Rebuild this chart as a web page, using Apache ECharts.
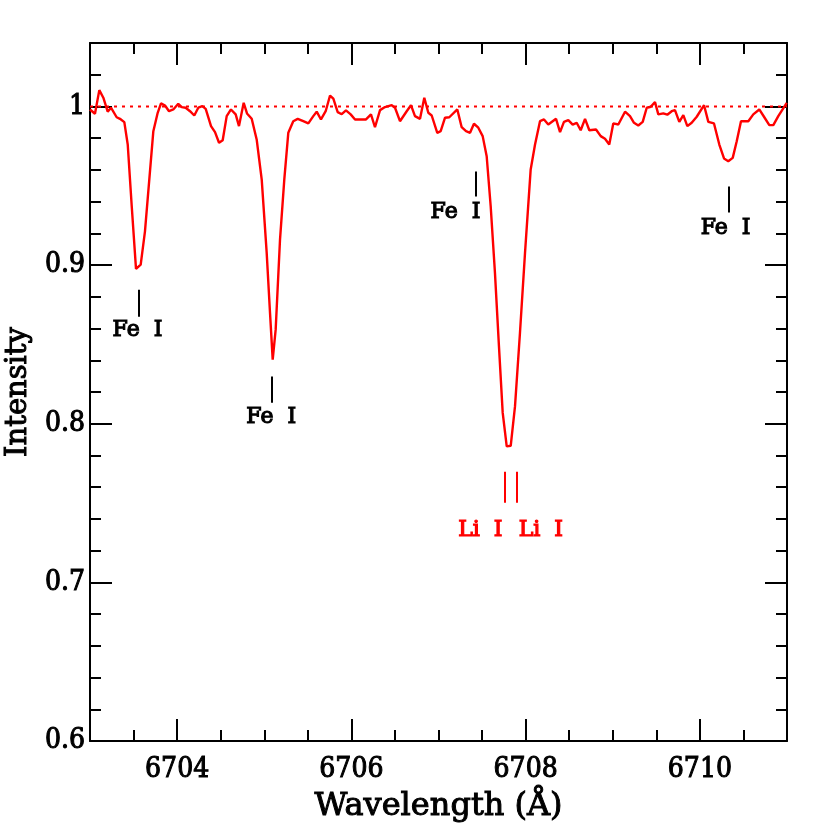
<!DOCTYPE html>
<html>
<head>
<meta charset="utf-8">
<script src="https://cdn.jsdelivr.net/npm/echarts@6/dist/echarts.min.js"></script>
<style>html,body{margin:0;padding:0;background:#fff}#c{width:830px;height:830px}</style>
</head>
<body>
<div id="c"></div>
<script>
// Spectrum (wavelength in Å, normalized intensity)
var wavelength = [6703.000,6703.057,6703.107,6703.153,6703.203,6703.241,6703.306,6703.344,6703.394,6703.433,6703.479,6703.528,6703.582,6703.631,6703.727,6703.777,6703.815,6703.861,6703.907,6703.956,6704.013,6704.053,6704.098,6704.148,6704.197,6704.243,6704.289,6704.328,6704.389,6704.435,6704.481,6704.523,6704.569,6704.618,6704.672,6704.710,6704.764,6704.802,6704.856,6704.913,6704.971,6705.028,6705.066,6705.097,6705.131,6705.181,6705.230,6705.276,6705.333,6705.384,6705.448,6705.506,6705.563,6705.602,6705.651,6705.705,6705.755,6705.793,6705.843,6705.889,6705.938,6705.992,6706.042,6706.099,6706.168,6706.225,6706.271,6706.329,6706.386,6706.463,6706.501,6706.558,6706.635,6706.684,6706.730,6706.788,6706.837,6706.883,6706.922,6706.986,6707.025,6707.075,6707.124,6707.216,6707.266,6707.316,6707.362,6707.407,6707.457,6707.507,6707.553,6707.599,6707.648,6707.694,6707.737,6707.783,6707.829,6707.878,6707.935,6707.993,6708.058,6708.108,6708.165,6708.211,6708.260,6708.349,6708.395,6708.440,6708.490,6708.540,6708.586,6708.632,6708.682,6708.731,6708.808,6708.862,6708.911,6708.960,6709.006,6709.064,6709.141,6709.198,6709.244,6709.293,6709.344,6709.390,6709.436,6709.485,6709.523,6709.580,6709.626,6709.677,6709.714,6709.764,6709.810,6709.856,6709.906,6709.964,6710.048,6710.097,6710.162,6710.223,6710.277,6710.326,6710.377,6710.423,6710.472,6710.556,6710.613,6710.682,6710.736,6710.797,6710.843,6710.900,6710.997];
var intensity = [0.9981,0.9954,1.0103,1.0055,0.9967,0.9992,0.9932,0.9922,0.9901,0.9760,0.9371,0.8976,0.9003,0.9213,0.9844,0.9960,1.0019,1.0006,0.9970,0.9981,1.0017,0.9996,0.9992,0.9970,0.9943,0.9992,1.0002,0.9985,0.9876,0.9838,0.9771,0.9787,0.9939,0.9981,0.9950,0.9876,1.0023,0.9956,0.9922,0.9792,0.9539,0.9077,0.8700,0.8404,0.8593,0.9161,0.9539,0.9834,0.9907,0.9922,0.9907,0.9893,0.9939,0.9967,0.9918,0.9970,1.0069,1.0049,0.9964,0.9951,0.9975,0.9950,0.9918,0.9918,0.9918,0.9950,0.9869,0.9977,0.9996,1.0008,0.9992,0.9907,0.9970,1.0008,0.9939,0.9922,1.0055,0.9960,0.9943,0.9834,0.9844,0.9929,0.9932,0.9981,0.9869,0.9844,0.9834,0.9891,0.9866,0.9813,0.9686,0.9371,0.8951,0.8488,0.8068,0.7857,0.7861,0.8109,0.8572,0.9077,0.9603,0.9760,0.9907,0.9918,0.9886,0.9922,0.9838,0.9903,0.9914,0.9886,0.9897,0.9850,0.9922,0.9850,0.9855,0.9813,0.9796,0.9760,0.9893,0.9886,0.9967,0.9939,0.9897,0.9880,0.9903,0.9992,0.9998,1.0027,0.9950,0.9956,0.9948,0.9970,0.9977,0.9903,0.9945,0.9876,0.9897,0.9935,1.0008,0.9903,0.9893,0.9760,0.9672,0.9655,0.9676,0.9781,0.9907,0.9907,0.9950,0.9981,0.9935,0.9882,0.9882,0.9939,1.0023];

// Continuum level
var continuumX = [6703, 6711];
var continuumLevel = 1;

// Line identifications
var lineNames   = ['Fe  I', 'Fe  I', 'Fe  I', 'Fe  I', 'Li  I', 'Li  I'];
var lineWave    = [6703.562, 6705.089, 6707.430, 6710.330, 6707.763, 6707.901];
var tickTop     = [0.8845, 0.8297, 0.9590, 0.9495, 0.7697, 0.7697];
var tickBottom  = [0.8675, 0.8132, 0.9432, 0.9331, 0.7502, 0.7502];
var labelWave   = [6703.545, 6705.080, 6707.195, 6710.295, 6707.480, 6708.175];
var labelLevel  = [0.8587, 0.8038, 0.9331, 0.9230, 0.7331, 0.7331];
var lineElement = ['Fe', 'Fe', 'Fe', 'Fe', 'Li', 'Li'];

// Axis ticks
var xMajorTicks = [6704, 6706, 6708, 6710];
var yMajorTicks = [0.6, 0.7, 0.8, 0.9, 1];

var FONT = 'DejaVu Serif';
var FONT_NUM = "'DejaVu Serif Condensed', 'DejaVu Serif'";
var RED = '#ff0000';

var spectrum = wavelength.map(function (w, i) { return [w, intensity[i]]; });
var continuum = continuumX.map(function (w) { return [w, continuumLevel]; });

function colorFor(i) { return lineElement[i] === 'Li' ? RED : '#000000'; }

var tickLines = lineWave.map(function (w, i) {
  return [
    { coord: [w, tickTop[i]], lineStyle: { color: colorFor(i), width: 2, type: 'solid' } },
    { coord: [w, tickBottom[i]] }
  ];
});

var labelData = labelWave.map(function (w, i) {
  return {
    value: [w, labelLevel[i]],
    label: { formatter: lineNames[i], color: colorFor(i), textBorderColor: colorFor(i) }
  };
});

function xAxisDef(pos, major) {
  var a = {
    type: 'value', gridIndex: 0, position: pos, min: 6703, max: 6711,
    interval: major ? 1 : 0.5,
    axisLine: { show: major, onZero: false, lineStyle: { color: '#000', width: 2 } },
    splitLine: { show: false },
    axisTick: { show: true, inside: true, length: major ? 22 : 11, lineStyle: { color: '#000', width: 2 } },
    axisLabel: { show: false }
  };
  if (major) {
    a.axisTick.customValues = xMajorTicks;
    if (pos === 'bottom') {
      a.axisLabel = { show: true, customValues: xMajorTicks, color: '#000', fontFamily: FONT_NUM,
                      fontSize: 28, margin: 15, textBorderColor: '#000', textBorderWidth: 1.0,
                      formatter: function (v) { return String(v); } };
      a.name = 'Wavelength (Å)';
      a.nameLocation = 'middle';
      a.nameGap = 50;
      a.nameTextStyle = { color: '#000', fontFamily: FONT, fontSize: 32,
                          textBorderColor: '#000', textBorderWidth: 1.0 };
    }
  }
  return a;
}

function yAxisDef(pos, major) {
  var a = {
    type: 'value', gridIndex: 0, position: pos, min: 0.6, max: 1.04,
    interval: major ? 0.1 : 0.02,
    axisLine: { show: major, onZero: false, lineStyle: { color: '#000', width: 2 } },
    splitLine: { show: false },
    axisTick: { show: true, inside: true, length: major ? 22 : 11, lineStyle: { color: '#000', width: 2 } },
    axisLabel: { show: false }
  };
  if (major) {
    a.axisTick.customValues = yMajorTicks;
    if (pos === 'left') {
      a.axisLabel = { show: true, customValues: yMajorTicks, color: '#000', fontFamily: FONT_NUM,
                      fontSize: 28, margin: 5, textBorderColor: '#000', textBorderWidth: 1.0,
                      formatter: function (v) { return String(Math.round(v * 10) / 10); } };
      a.name = 'Intensity';
      a.nameLocation = 'middle';
      a.nameGap = 57;
      a.nameRotate = 90;
      a.nameTextStyle = { color: '#000', fontFamily: FONT, fontSize: 29,
                          textBorderColor: '#000', textBorderWidth: 1.0 };
    }
  }
  return a;
}

var chart = echarts.init(document.getElementById('c'), null, { renderer: 'canvas' });
chart.setOption({
  animation: false,
  backgroundColor: '#ffffff',
  grid: { left: 90, right: 43, top: 43, bottom: 89, containLabel: false, outerBoundsMode: 'none' },
  xAxis: [xAxisDef('bottom', true), xAxisDef('bottom', false), xAxisDef('top', true), xAxisDef('top', false)],
  yAxis: [yAxisDef('left', true), yAxisDef('left', false), yAxisDef('right', true), yAxisDef('right', false)],
  series: [
    {
      type: 'line', xAxisIndex: 0, yAxisIndex: 0, data: continuum,
      showSymbol: false, symbol: 'none', silent: true,
      lineStyle: { color: RED, width: 2, type: [3, 5] }
    },
    {
      type: 'line', xAxisIndex: 0, yAxisIndex: 0, data: spectrum,
      showSymbol: false, symbol: 'none', silent: true, clip: true,
      lineStyle: { color: RED, width: 2.4 },
      markLine: {
        silent: true, symbol: ['none', 'none'], label: { show: false },
        data: tickLines
      }
    },
    {
      type: 'scatter', xAxisIndex: 0, yAxisIndex: 0, data: labelData,
      symbolSize: 1, silent: true,
      itemStyle: { color: 'rgba(0,0,0,0)', opacity: 1 },
      label: { show: true, position: 'inside', align: 'center', verticalAlign: 'middle',
               fontFamily: FONT, fontSize: 22, textBorderWidth: 1.2, opacity: 1 }
    }
  ]
});
</script>
</body>
</html>
